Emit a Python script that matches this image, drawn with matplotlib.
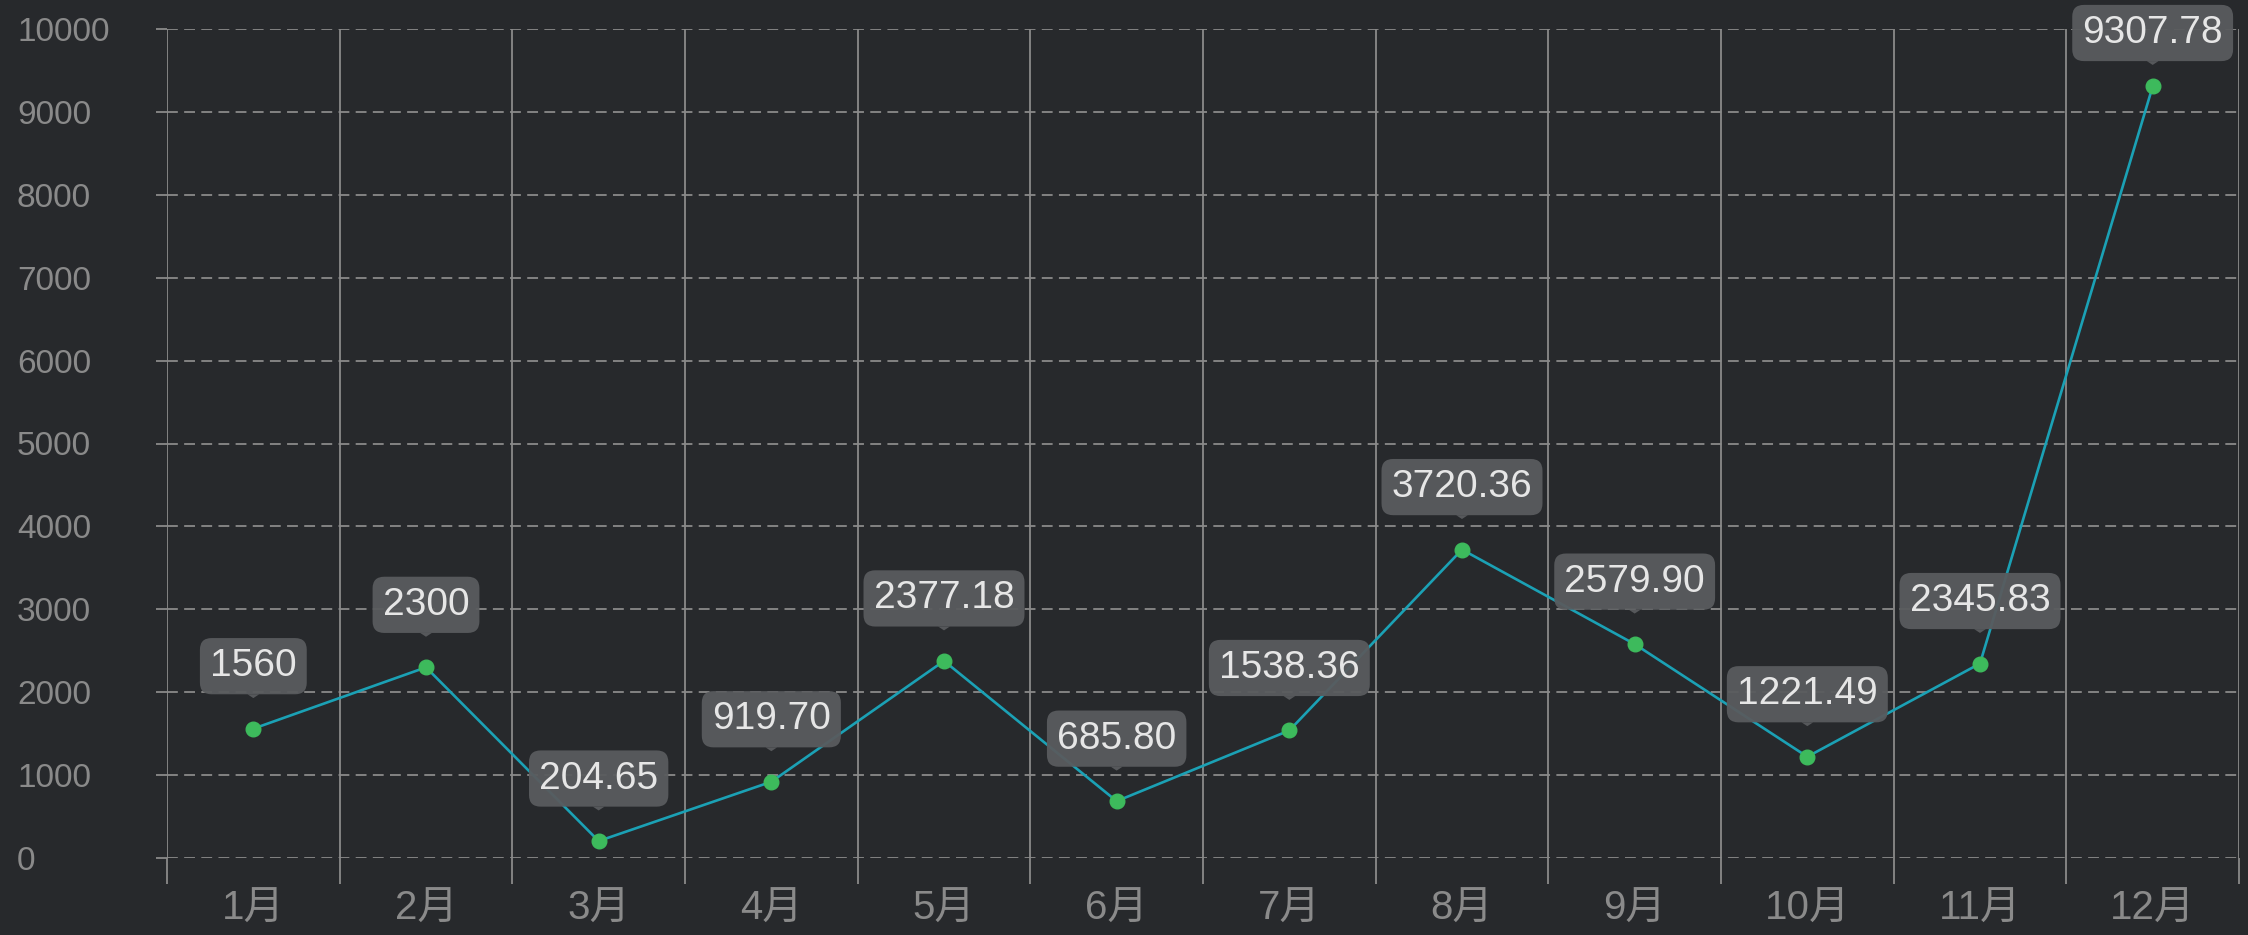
import matplotlib.pyplot as plt
import numpy as np

plt.rcParams['font.family'] = ['Liberation Sans', 'Noto Sans CJK SC', 'DejaVu Sans']

# monthly values
months = ['1月', '2月', '3月', '4月', '5月', '6月', '7月', '8月', '9月', '10月', '11月', '12月']
values = [1560, 2300, 204.65, 919.70, 2377.18, 685.80, 1538.36, 3720.36, 2579.90, 1221.49, 2345.83, 9307.78]
value_labels = ['1560', '2300', '204.65', '919.70', '2377.18', '685.80', '1538.36',
                '3720.36', '2579.90', '1221.49', '2345.83', '9307.78']

bg = '#27292c'
grid_col = '#8a8a8a'
box_col = '#595b5e'

W, H = 2248, 935
top_px, bot_px = 29, 858
fig = plt.figure(figsize=(W / 100, H / 100), dpi=100, facecolor=bg)
ax = fig.add_axes([167 / W, 1 - bot_px / H, (2239 - 167) / W, (bot_px - top_px) / H])
ax.set_facecolor(bg)

ymax = 10000
x = np.arange(1, len(months) + 1)
ax.plot(x, values, color='#1ba1b5', lw=1.9, marker='o', ms=10.5,
        mfc='#3dba5c', mec='#3dba5c', zorder=4, clip_on=False)

for xi, v, lab in zip(x, values, value_labels):
    # keep the label box inside the canvas (pushed down near the top)
    room_px = top_px + (1 - v / ymax) * (bot_px - top_px) - 33
    off = min(45, room_px * 0.72)
    ax.annotate(lab, xy=(xi, v), xytext=(0, off), textcoords='offset points',
                ha='center', va='center', fontsize=28, color='#e6e6e6', zorder=6,
                bbox=dict(boxstyle='round,pad=0.26,rounding_size=0.3', fc=box_col, ec='none', alpha=0.95),
                arrowprops=dict(arrowstyle='wedge,tail_width=0.3', fc=box_col, ec='none',
                                shrinkA=0, shrinkB=off - 23, alpha=0.95))

ax.set_xlim(0.5, len(months) + 0.5)
ax.set_ylim(0, ymax)

# category boundaries as major ticks, labels on minor ticks
ax.set_xticks(np.arange(0.5, len(months) + 1, 1))
ax.set_xticklabels([])
ax.set_xticks(x, minor=True)
ax.set_xticklabels(months, minor=True, fontsize=29, color=grid_col)
ax.tick_params(axis='x', which='major', length=19, width=1.3, color=grid_col)
ax.tick_params(axis='x', which='minor', length=0, pad=23)
ax.grid(axis='x', which='major', color=grid_col, lw=1.3, ls='-')

ax.set_yticks(np.arange(0, ymax + 1, 1000))
ax.set_yticklabels([str(t) for t in range(0, ymax + 1, 1000)], fontsize=24, color=grid_col, ha='left')
ax.tick_params(axis='y', length=8, width=1.3, color=grid_col, pad=100)
ax.grid(axis='y', color=grid_col, lw=1.3, ls=(0, (6, 3.5)))

for s in ax.spines.values():
    s.set_visible(False)
ax.set_axisbelow(True)

plt.savefig('out.png', dpi=100, facecolor=bg)
